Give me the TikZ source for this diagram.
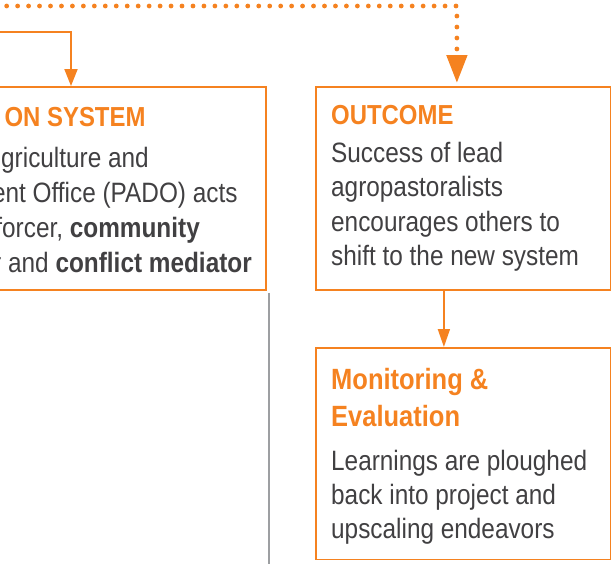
\documentclass[tikz,border=0pt]{standalone}
\usepackage{fontspec}
\setmainfont{Liberation Sans}[FakeStretch=0.87]
\usetikzlibrary{arrows.meta}
\definecolor{padoorange}{HTML}{F58220}
\definecolor{padotext}{HTML}{414042}
\definecolor{padorule}{HTML}{9D9FA2}

\begin{document}
\begin{tikzpicture}[x=1pt,y=-1pt,
  box/.style={draw=padoorange, line width=1.8pt, inner sep=0pt, anchor=north west},
  title/.style={text=padoorange, font=\fontsize{27.5}{33}\selectfont\bfseries, inner sep=0pt},
  bigtitle/.style={text=padoorange, font=\fontsize{29.3}{36.7}\selectfont\bfseries, inner sep=0pt},
  body/.style={text=padotext, font=\fontsize{28}{34}\selectfont, inner sep=0pt},
  link/.style={draw=padoorange, line width=1.8pt},
  dots/.style={draw=padoorange, line width=4.8pt, line cap=round, dash pattern=on 0pt off 10.96pt},
  divider/.style={draw=padorule, line width=1.4pt}]
\useasboundingbox (0,0) rectangle (611,563);
\clip (0,0) rectangle (611,563);
% boxes (the left one runs off the page)
\node[box, minimum width=325pt, minimum height=203pt] (ext) at (-60,86) {};
\node[box, minimum width=295pt, minimum height=203pt] (outcome) at (315,86) {};
\node[box, minimum width=295pt, minimum height=211.5pt] (monitor) at (315,347) {};
% titles
\node[title, anchor=base east] (exttitle) at (145.7,126.7) {ON SYSTEM};
\node[title, anchor=base west] (outtitle) at (331,124.5) {OUTCOME};
\node[bigtitle, anchor=base west] (montitleA) at (331,389.3) {Monitoring \&};
\node[bigtitle, anchor=base west] (montitleB) at (331,426) {Evaluation};
% edit here for the text of the left box
\foreach \x/\t [count=\i] in {149/griculture and, 237.7/ent Office (PADO) acts, {200/forcer, \textbf{community}}, {252/r and \textbf{conflict mediator}}}
\node[body, anchor=base east] (ext\i) at (\x,{167+35*(\i-1)}) {\t};
% edit here for the outcome text
\foreach \t [count=\i] in {Success of lead, agropastoralists, encourages others to, shift to the new system}
\node[body, anchor=base west] (out\i) at (331,{162+34.5*(\i-1)}) {\t};
\foreach \t [count=\i] in {Learnings are ploughed, back into project and, upscaling endeavors}
\node[body, anchor=base west] (mon\i) at (331,{470+34*(\i-1)}) {\t};
% connectors
\coordinate (fbk) at (-4.3,6);
\coordinate (fwd) at (-5,32);
\draw[dots, -{Triangle[length=28pt,width=20pt]}, shorten >=3pt] (fbk) -| ([xshift=-6.5pt]outcome.north);
\draw[link, -{Triangle[length=17pt,width=13pt]}] (fwd) -| ([xshift=131pt]ext.north west);
\draw[link, -{Triangle[length=18pt,width=12pt]}] ([xshift=-19.5pt]outcome.south) -- ([xshift=-19.5pt]monitor.north);
\draw[divider] ([xshift=2pt,yshift=-2pt]ext.south east) -- ++(0,300);
\end{tikzpicture}
\end{document}
